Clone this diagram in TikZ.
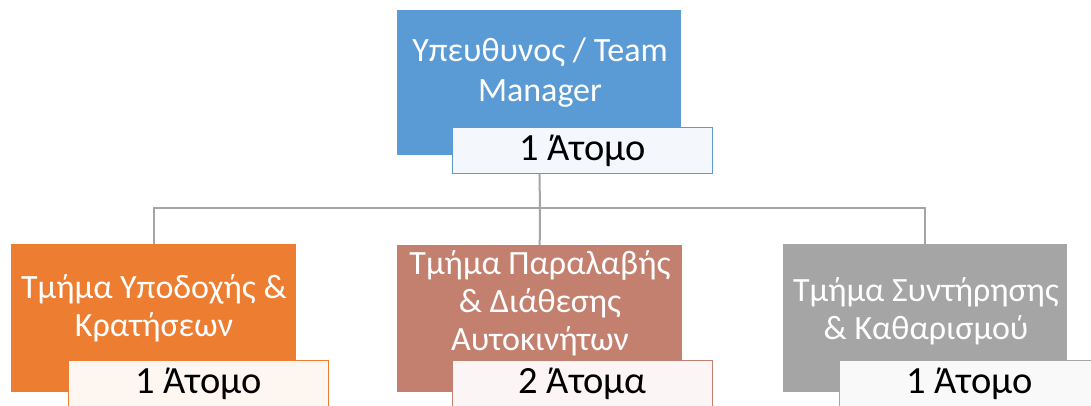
\documentclass[tikz,border=0pt]{standalone}
\usepackage{fontspec}
\setmainfont{Carlito}
\usetikzlibrary{calc}
\definecolor{blueA}{HTML}{5B9BD5}
\definecolor{orangeA}{HTML}{ED7D31}
\definecolor{brownA}{HTML}{C4806F}
\definecolor{grayA}{HTML}{A5A5A5}
\definecolor{lineA}{HTML}{A5A5A5}
\tikzset{
  unitbox/.style={fill=#1, draw=none, inner sep=0pt, anchor=north west},
  unittext/.style={text=white, align=center, inner sep=0pt,
    font=\fontsize{34}{38}\selectfont},
  countbox/.style={draw=#1, fill=#1!7!white, line width=1.3pt, inner sep=0pt,
    anchor=north west, minimum width=260pt, minimum height=46pt,
    font=\fontsize{38.5}{40}\selectfont},
  conn/.style={draw=lineA, line width=2pt}
}
\begin{document}
\begin{tikzpicture}[x=1pt,y=-1pt]
\useasboundingbox (0,0) rectangle (1091,406);
\clip (0,0) rectangle (1091,406);

% department boxes
\node[unitbox=blueA, minimum width=284pt, minimum height=145pt] (m0) at (397,10) {};
\node[unitbox=orangeA, minimum width=285pt, minimum height=148pt] (m1) at (11,244) {};
\node[unitbox=brownA, minimum width=285pt, minimum height=147pt] (m2) at (397,245) {};
\node[unitbox=grayA, minimum width=284pt, minimum height=148pt] (m3) at (783,244) {};

% connectors
\coordinate (bus) at (540,208);
\draw[conn] (m0.south) -- (bus);
\draw[conn] (m1.north) |- (bus) -| (m3.north);
\draw[conn] (bus) -- (m2.north);

% titles
\node[unittext, font=\fontsize{34}{40}\selectfont] (t0) at (540,73) {Υπευθυνος / Team\\Manager};
\node[unittext] (t1) at (154,308) {Τμήμα Υποδοχής \&\\Κρατήσεων};
\node[unittext] (t2) at (540,303) {Τμήμα Παραλαβής\\\& Διάθεσης\\Αυτοκινήτων};
\node[unittext] (t3) at (926,311) {Τμήμα Συντήρησης\\\& Καθαρισμού};

% head counts
\node[countbox=blueA] (l0) at (452,127) {1 Άτομο};
\node[countbox=orangeA] (l1) at (68,360) {\raisebox{-1.5pt}{1 Άτομο}};
\node[countbox=brownA] (l2) at (452,360) {\raisebox{-1.5pt}{2 Άτομα}};
\node[countbox=grayA] (l3) at (839,360) {\raisebox{-1.5pt}{1 Άτομο}};
\end{tikzpicture}
\end{document}
